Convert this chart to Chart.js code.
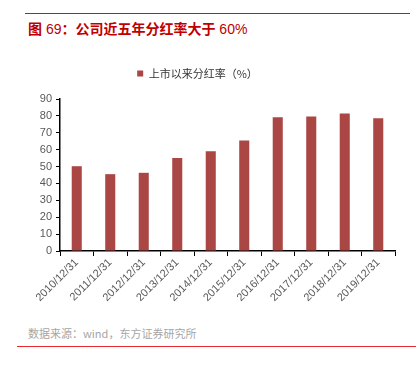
<!DOCTYPE html>
<html>
<head>
<meta charset="utf-8">
<script src="https://cdn.jsdelivr.net/npm/chart.js@4.4.1/dist/chart.umd.min.js"></script>
<style>
  html, body { margin: 0; padding: 0; background: #fff; }
  body { width: 418px; height: 370px; position: relative; overflow: hidden;
         font-family: "Liberation Sans", "Noto Sans CJK SC", sans-serif; }
  .rule { position: absolute; display: block; }
  #topline { left: 25px; top: 13px; width: 385px; height: 1px; background: #c8161d; }
  #title { position: absolute; left: 28px; top: 18px; font-size: 14px; color: #c00000;
           font-family: "Liberation Sans", "Noto Sans CJK SC", sans-serif; white-space: nowrap; }
  #title b { font-family: "Noto Sans CJK SC", sans-serif; font-weight: bold; }
  #wrap { position: absolute; left: 0; top: 60px; width: 418px; height: 260px; }
  #source { position: absolute; left: 28px; top: 325px; font-size: 11px; color: #a6a6a6;
            font-family: "Noto Sans CJK SC", sans-serif; white-space: nowrap; }
  #bottomline { left: 17px; top: 346px; width: 399px; height: 1px; background: #e8282b; }
</style>
</head>
<body>
<div class="rule" id="topline"></div>
<div id="title"><b>图</b> 69<b>：公司近五年分红率大于</b> 60%</div>
<div id="wrap"><canvas id="myChart"></canvas></div>
<div id="source">数据来源：wind，东方证券研究所</div>
<div class="rule" id="bottomline"></div>
<script>
const labels = ["2010/12/31", "2011/12/31", "2012/12/31", "2013/12/31", "2014/12/31",
                "2015/12/31", "2016/12/31", "2017/12/31", "2018/12/31", "2019/12/31"];
const payoutRatio = [50.2, 45.5, 46.3, 55.0, 59.1, 65.5, 79.2, 79.6, 81.4, 78.6];
const yTicks = [0, 10, 20, 30, 40, 50, 60, 70, 80, 90];

const barColor = "rgb(170, 70, 68)";

const data = {
    labels: labels,
    datasets: [
        {
            label: "上市以来分红率（%）",
            backgroundColor: barColor,
            borderWidth: 0,
            barPercentage: 0.3,
            categoryPercentage: 1,
            data: payoutRatio,
        },
    ],
};

const config = {
    type: "bar",
    data,
    options: {
        responsive: true,
        maintainAspectRatio: false,
        animation: false,
        layout: { padding: { left: 0, right: 23, top: 0, bottom: 0 } },
        plugins: {
            legend: {
                position: "top",
                labels: {
                    boxWidth: 6,
                    boxHeight: 6,
                    padding: 8,
                    color: "#333",
                    font: { size: 11, family: "'Noto Sans CJK SC', sans-serif" },
                },
            },
            tooltip: { enabled: false },
        },
        scales: {
            x: {
                grid: { display: true, drawOnChartArea: false, drawTicks: true, tickLength: 5, color: "#000", offset: true },
                border: { color: "#000", width: 1.5 },
                ticks: {
                    minRotation: 45,
                    maxRotation: 45,
                    color: "#595959",
                    font: { size: 11, family: "'Liberation Sans', sans-serif" },
                    padding: 0,
                },
                afterFit: (s) => { s.height = 69; },
            },
            y: {
                min: 0,
                max: 90,
                afterBuildTicks: (s) => { s.ticks = yTicks.map((v) => ({ value: v })); },
                grid: { display: true, drawOnChartArea: false, drawTicks: true, tickLength: 4, color: "#000" },
                border: { color: "#000", width: 1.5 },
                ticks: {
                    color: "#595959",
                    font: { size: 11, family: "'Liberation Sans', sans-serif" },
                    padding: 4,
                },
                afterFit: (s) => { s.width = 60; },
            },
        },
    },
    plugins: [{
        id: "legendGap",
        beforeInit(chart) {
            const fit = chart.legend.fit;
            chart.legend.fit = function () {
                fit.bind(chart.legend)();
                this.height += 10;
            };
        },
    }],
};

var myChart = new Chart(document.getElementById("myChart"), config);
</script>
</body>
</html>
